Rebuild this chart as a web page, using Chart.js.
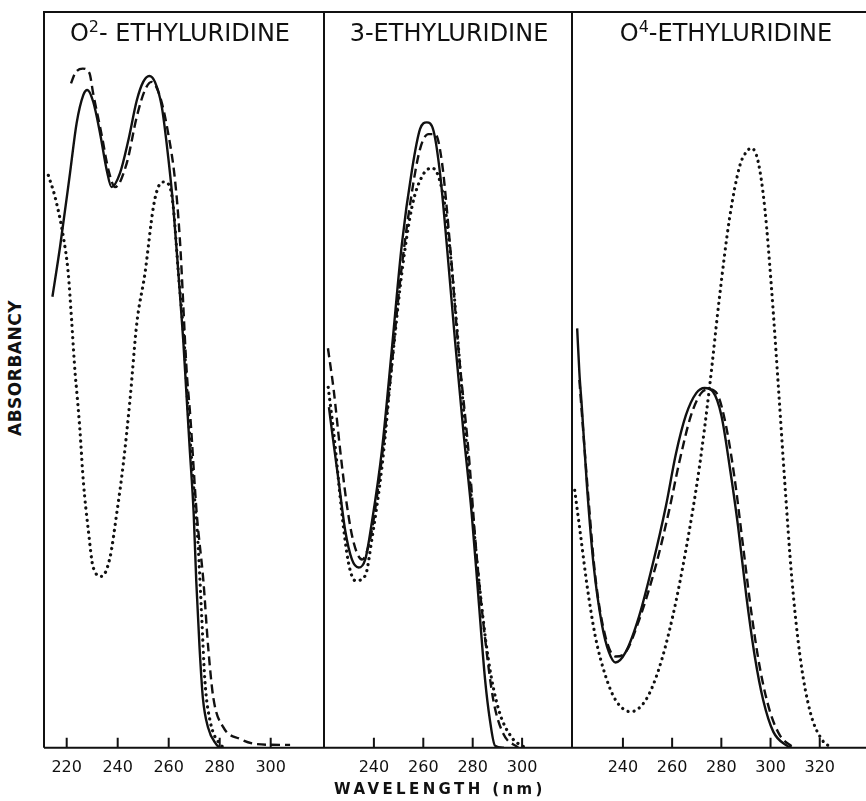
<!DOCTYPE html>
<html>
<head>
<meta charset="utf-8">
<script src="https://cdn.jsdelivr.net/npm/chart.js@4"></script>
<style>
  html, body { margin: 0; padding: 0; background: #fff; }
  #fig { position: relative; width: 866px; height: 801px; overflow: hidden; font-family: "DejaVu Sans", sans-serif; color: #111; }
  .panel { position: absolute; top: 0; height: 801px; }
  .titulo { position: absolute; top: 21px; font-size: 24px; white-space: nowrap; transform: translateX(-50%); line-height: 1; }
  .titulo sup { font-size: 16px; vertical-align: 9px; line-height: 0; }
  #ejeY { position: absolute; left: 15px; top: 368px; font-weight: bold; font-size: 17px; letter-spacing: 0.5px;
          transform: translate(-50%, -50%) rotate(-90deg); white-space: nowrap; }
  #ejeX { position: absolute; left: 440px; top: 780px; font-weight: bold; font-size: 15px; letter-spacing: 3.4px;
          transform: translateX(-50%); white-space: nowrap; }
</style>
</head>
<body>
<div id="fig">
  <div class="panel" style="left:40px;width:288px"><canvas id="c1" width="288" height="801"></canvas></div>
  <div class="panel" style="left:320px;width:256px"><canvas id="c2" width="256" height="801"></canvas></div>
  <div class="panel" style="left:568px;width:298px"><canvas id="c3" width="298" height="801"></canvas></div>
  <div class="titulo" style="left:180px">O<sup>2</sup>- ETHYLURIDINE</div>
  <div class="titulo" style="left:449px">3-ETHYLURIDINE</div>
  <div class="titulo" style="left:726px">O<sup>4</sup>-ETHYLURIDINE</div>
  <div id="ejeY">ABSORBANCY</div>
  <div id="ejeX">WAVELENGTH (nm)</div>
</div>
<script>
// [longitud de onda nm, absorbancia relativa]
const o2Solido = [[214.4,.613],[217.4,.681],[221.3,.781],[223.9,.849],[226.5,.887],[228.1,.894],[230.4,.878],[233.1,.835],[235.7,.785],[237.6,.762],[240.9,.781],[244.2,.826],[247.5,.880],[250,.905],[252.4,.913],[254.6,.905],[257.3,.871],[259.8,.803],[261.8,.735],[263.8,.645],[265.7,.554],[266.8,.49],[268.2,.409],[269.8,.318],[270.8,.227],[272.1,.136],[273.4,.068],[275.4,.028],[278.6,.005],[280,0]];
const o2Guiones = [[221.7,.903],[223.3,.917],[226.3,.923],[228.9,.917],[230.4,.889],[233.6,.835],[236.4,.785],[239,.762],[243.5,.794],[247.5,.858],[250.7,.894],[253.3,.905],[256.6,.885],[259.8,.835],[262.5,.771],[264.4,.690],[267.1,.509],[268.4,.454],[271,.318],[273.6,.227],[275.5,.136],[277.5,.068],[281.4,.028],[288,.012],[294.5,.005],[303.6,.004],[307.6,.004]];
const o2Puntos = [[212.8,.778],[215.4,.749],[218.7,.694],[220.6,.645],[222,.577],[223.3,.509],[223.9,.486],[225.2,.431],[226.5,.363],[228.5,.295],[230.4,.245],[233.7,.233],[237,.259],[239.6,.318],[242.2,.386],[244.8,.472],[247.5,.577],[250.7,.645],[254,.735],[255.9,.762],[258.2,.769],[260.5,.762],[261.8,.735],[263.8,.645],[266,.554],[267.7,.454],[269.6,.363],[271.6,.272],[272.9,.182],[274.2,.091],[276.2,.037],[280.1,.005],[282,0]];

const n3Solido = [[221.8,.463],[223,.431],[225.7,.363],[228.4,.295],[231.1,.256],[233.8,.245],[236.5,.256],[239.2,.307],[243.2,.403],[247.3,.543],[251.3,.684],[255.4,.785],[258.7,.841],[261.4,.850],[264.1,.839],[266.8,.780],[269.5,.684],[272.8,.555],[276.2,.431],[279.6,.318],[282.3,.205],[285,.093],[287,.037],[289,.003],[292.6,0]];
const n3Guiones = [[221.4,.543],[223.7,.487],[226.4,.403],[229.1,.329],[231.8,.279],[235.2,.256],[238.5,.284],[242.5,.374],[246.6,.498],[250.6,.634],[254.7,.740],[258.7,.814],[262.1,.834],[264.8,.834],[267.5,.797],[270.8,.684],[274.2,.543],[278.3,.403],[281.6,.261],[285,.149],[288.4,.064],[292.4,.019],[298.5,0]];
const n3Puntos = [[221.5,.49],[224,.42],[227,.32],[229.8,.25],[232.5,.227],[236.5,.234],[239.2,.284],[243.4,.386],[247.3,.521],[251.3,.645],[255.4,.735],[259.4,.776],[263.4,.788],[266.1,.777],[268.8,.735],[272.2,.627],[275.6,.487],[278.9,.358],[282.3,.234],[286.3,.121],[290.4,.053],[295.8,.014],[299.8,.003],[302,0]];

const o4Solido = [[221.4,.57],[222.3,.51],[223.3,.463],[225.4,.355],[228.1,.248],[231.5,.167],[234.3,.130],[237,.116],[241.1,.130],[246.5,.178],[252,.248],[257.5,.329],[261.5,.399],[265.6,.452],[269.8,.482],[273.2,.489],[276.6,.484],[280,.452],[283.4,.382],[286.8,.301],[290.2,.205],[293.6,.124],[297,.065],[301.1,.022],[306.6,.003],[308.6,0]];
const o4Guiones = [[222.3,.50],[223.3,.455],[226.1,.334],[228.8,.232],[232.9,.151],[237,.124],[241.1,.13],[246.5,.173],[253.4,.248],[258.8,.323],[262.9,.388],[267.7,.452],[271.8,.482],[275.2,.487],[278.6,.479],[282,.436],[285.4,.366],[288.8,.275],[292.2,.184],[295.7,.108],[299.8,.049],[303.8,.017],[309.3,0]];
const o4Puntos = [[220.4,.350],[222.7,.291],[225.4,.221],[228.8,.151],[232.9,.098],[237,.065],[243.1,.049],[249.3,.065],[254.7,.108],[260.2,.178],[265.6,.269],[271.1,.382],[275.2,.490],[279.3,.614],[283.4,.721],[287.5,.791],[290.2,.810],[292.2,.815],[295,.796],[297.7,.732],[300.4,.624],[303.2,.490],[305.9,.355],[308.6,.232],[312,.124],[316.1,.049],[320.9,.011],[325,0]];

const ticksO2 = [220, 240, 260, 280, 300];
const ticks3 = [240, 260, 280, 300];
const ticksO4 = [240, 260, 280, 300, 320];

// marco y marcas de escala hacia adentro, como en el original
const marco = {
  id: 'marco',
  afterDraw(chart) {
    const {ctx, chartArea: a, scales: {x}} = chart;
    ctx.save();
    ctx.strokeStyle = '#111';
    ctx.lineWidth = 2;
    ctx.beginPath();
    ctx.moveTo(a.left, a.bottom);
    ctx.lineTo(a.left, a.top);
    ctx.lineTo(a.right, a.top);
    ctx.moveTo(a.left, a.bottom);
    ctx.lineTo(a.right, a.bottom);
    x.ticks.forEach(t => {
      const px = x.getPixelForValue(t.value);
      ctx.moveTo(px, a.bottom);
      ctx.lineTo(px, a.bottom - 10);
    });
    ctx.stroke();
    ctx.restore();
  }
};

function serie(puntos, estilo) {
  const base = {
    data: puntos.map(([x, y]) => ({x, y})),
    borderColor: '#111',
    pointRadius: 0,
    fill: false,
    cubicInterpolationMode: 'monotone'
  };
  if (estilo === 'guiones') return {...base, borderWidth: 2.4, borderDash: [9, 5]};
  if (estilo === 'puntos') return {...base, borderWidth: 3.2, borderDash: [0.1, 6], borderCapStyle: 'round'};
  return {...base, borderWidth: 2.4};
}

function panel(id, series, min, max, ticks, padR) {
  new Chart(document.getElementById(id), {
    type: 'line',
    data: {datasets: series},
    options: {
      responsive: false,
      animation: false,
      layout: {padding: {left: 4, right: padR, top: 12, bottom: 14}},
      plugins: {legend: {display: false}, tooltip: {enabled: false}},
      scales: {
        x: {
          type: 'linear', min, max,
          afterBuildTicks: ax => { ax.ticks = ticks.map(v => ({value: v})); },
          grid: {display: false, drawTicks: false},
          border: {display: false},
          ticks: {color: '#111', padding: 10, font: {family: 'DejaVu Sans', size: 16}, maxRotation: 0}
        },
        y: {min: 0, max: 1, display: false}
      }
    },
    plugins: [marco]
  });
}

panel('c1', [serie(o2Solido), serie(o2Guiones, 'guiones'), serie(o2Puntos, 'puntos')], 211.1, 320.9, ticksO2, 4);
panel('c2', [serie(n3Solido), serie(n3Guiones, 'guiones'), serie(n3Puntos, 'puntos')], 219.8, 320.2, ticks3, 4);
panel('c3', [serie(o4Solido), serie(o4Guiones, 'guiones'), serie(o4Puntos, 'puntos')], 219.3, 338.8, ticksO4, 0);
</script>
</body>
</html>
